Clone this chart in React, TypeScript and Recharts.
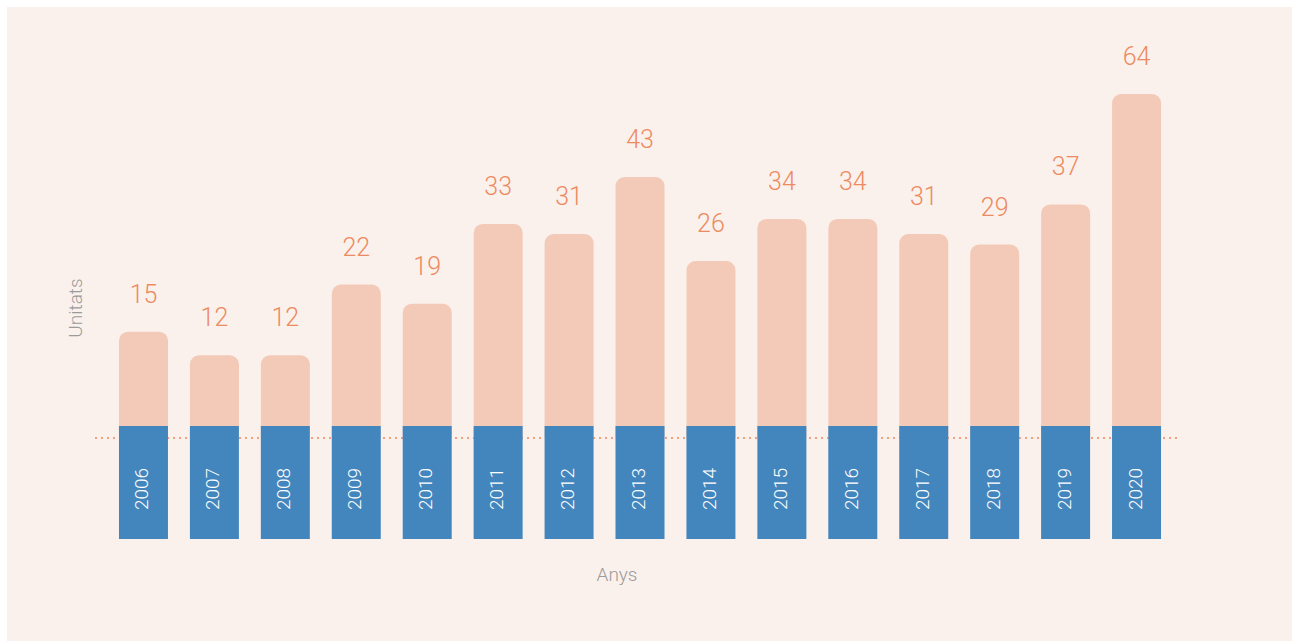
import React from 'react';
import { BarChart, Bar, XAxis, YAxis, LabelList } from 'recharts';

const years = ['2006', '2007', '2008', '2009', '2010', '2011', '2012', '2013', '2014', '2015', '2016', '2017', '2018', '2019', '2020'];
const units = [15, 12, 12, 22, 19, 33, 31, 43, 26, 34, 34, 31, 29, 37, 64];

const data = years.map((year, i) => ({ year, units: units[i] }));

const BG = '#fbf1ec';
const PEACH = '#f3cab8';
const BLUE = '#4386bd';
const ORANGE = '#ec8b62';
const GRAY = '#9b9b9b';
const FONT = 'Roboto, "Liberation Sans", Arial, sans-serif';
const BAR_W = 49;

const YearTick = (props: any) => {
  const { x, y, payload } = props;
  return (
    <g>
      <rect x={x - BAR_W / 2} y={y - 12} width={BAR_W} height={113} fill={BLUE} />
      <text
        x={x + 5}
        y={y + 51}
        transform={`rotate(-90, ${x + 5}, ${y + 51})`}
        textAnchor="middle"
        fill="#ffffff"
        fontSize={19}
        fontWeight={300}
        fontFamily={FONT}
      >
        {payload.value}
      </text>
    </g>
  );
};

const ValueLabel = (props: any) => {
  const { x, y, width, value } = props;
  return (
    <text
      x={x + width / 2}
      y={y - 29}
      textAnchor="middle"
      fill={ORANGE}
      fontSize={25}
      fontWeight={300}
      fontFamily={FONT}
    >
      {value}
    </text>
  );
};

const UnitatsLabel = (props: any) => {
  const vb = props.viewBox;
  const cx = vb.x + vb.width - 20.5;
  const cy = vb.y + vb.height / 2 + 42;
  return (
    <text
      x={cx + 7}
      y={cy}
      transform={`rotate(-90, ${cx + 7}, ${cy})`}
      textAnchor="middle"
      fill={GRAY}
      fontSize={19}
      fontWeight={300}
      fontFamily={FONT}
    >
      Unitats
    </text>
  );
};

const AnysLabel = (props: any) => {
  const vb = props.viewBox;
  return (
    <text
      x={vb.x + vb.width / 2 - 19}
      y={vb.y + 143}
      textAnchor="middle"
      fill={GRAY}
      fontSize={19}
      fontWeight={300}
      fontFamily={FONT}
    >
      Anys
    </text>
  );
};

export default function App() {
  return (
    <div style={{ position: 'fixed', top: 7, left: 7, width: 1285, height: 634, background: BG }}>
      <BarChart
        width={1285}
        height={634}
        data={data}
        baseValue={5}
        margin={{ top: 87, right: 115, bottom: 0, left: 0 }}
      >
        <XAxis
          dataKey="year"
          height={203}
          padding={{ left: 13, right: 5 }}
          tickSize={0}
          tickMargin={0}
          tickLine={false}
          interval={0}
          axisLine={{ stroke: '#f0a07e', strokeWidth: 2, strokeDasharray: '2 4' }}
          tick={<YearTick />}
          label={(p: any) => <AnysLabel {...p} />}
        />
        <YAxis
          type="number"
          scale="sqrt"
          domain={[4.11, 64]}
          allowDataOverflow
          width={88}
          tick={false}
          tickLine={false}
          axisLine={false}
          label={(p: any) => <UnitatsLabel {...p} />}
        />
        <Bar dataKey="units" fill={PEACH} barSize={BAR_W} radius={[9, 9, 0, 0]} isAnimationActive={false}>
          <LabelList dataKey="units" content={<ValueLabel />} />
        </Bar>
      </BarChart>
    </div>
  );
}
